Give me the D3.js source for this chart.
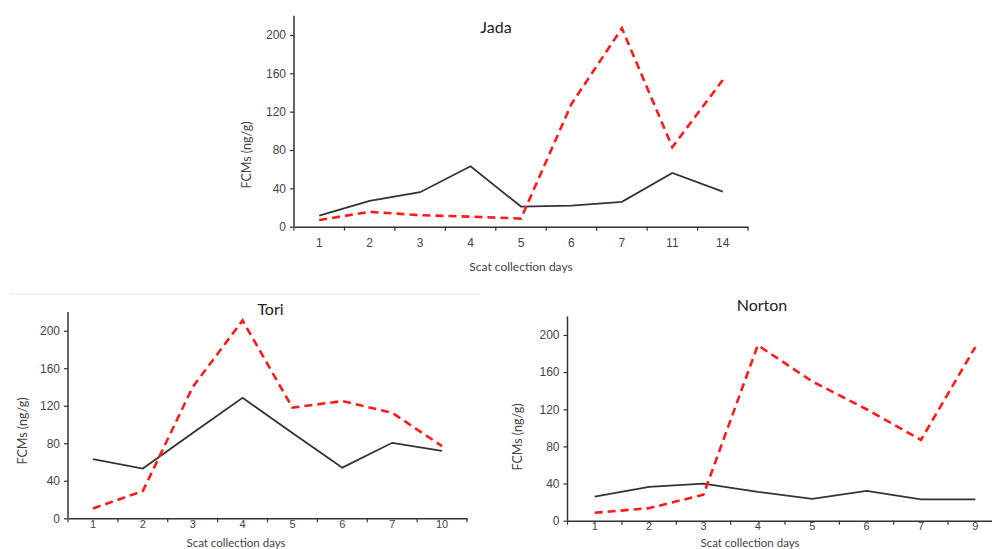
<!DOCTYPE html>
<html>
<head>
<meta charset="utf-8">
<script src="https://cdn.jsdelivr.net/npm/d3@7"></script>
<style>
  html, body { margin: 0; padding: 0; background: #fff; }
  svg { display: block; font-family: Lato, "Open Sans", sans-serif; }
</style>
</head>
<body>
<svg id="chart" width="992" height="549"></svg>
<script>
// Faecal cortisol metabolite (FCM) levels per scat collection day
const yTicks = [0, 40, 80, 120, 160, 200];

const jadaDays   = ["1", "2", "3", "4", "5", "6", "7", "11", "14"];
const jadaSolid  = [11.5, 27, 36, 63, 21, 22, 26, 56, 36.5];
const jadaDashed = [7, 15.5, 12, 10.5, 8.5, 128, 207, 83, 153];

const toriDays   = ["1", "2", "3", "4", "5", "6", "7", "10"];
const toriSolid  = [63, 53, 91, 128.5, 91, 54, 80.5, 72];
const toriDashed = [10.5, 29, 140, 211, 118, 125, 112.5, 77];

const nortonDays   = ["1", "2", "3", "4", "5", "6", "7", "9"];
const nortonSolid  = [26, 36.5, 40, 31, 23.5, 32, 23, 23];
const nortonDashed = [8.5, 13.5, 28, 189, 150, 120, 87, 187];

// Panel placement on the page
const panels = [
  { title: "Jada", days: jadaDays, solid: jadaSolid, dashed: jadaDashed,
    x0: 294, x1: 748, yBottom: 226.7, yTop: 15.8,
    titlePos: [496, 26], xLabelPos: [521, 266], yLabelPos: [246, 155],
    tickPad: 12, tickFont: 12, xLabelFont: 12 },
  { title: "Tori", days: toriDays, solid: toriSolid, dashed: toriDashed,
    x0: 68, x1: 467, yBottom: 518.3, yTop: 312,
    titlePos: [270.5, 308], xLabelPos: [236, 542], yLabelPos: [22, 431],
    tickPad: 2, tickFont: 11, xLabelFont: 11.5 },
  { title: "Norton", days: nortonDays, solid: nortonSolid, dashed: nortonDashed,
    x0: 567.5, x1: 1002.5, yBottom: 520.7, yTop: 316.4,
    titlePos: [762, 304], xLabelPos: [750, 542], yLabelPos: [517, 437],
    tickPad: 1, tickFont: 11, xLabelFont: 11.5 }
];

const svg = d3.select("#chart");

// thin separator above the lower-left panel
svg.append("line")
  .attr("x1", 10).attr("x2", 480).attr("y1", 294).attr("y2", 294)
  .attr("stroke", "#eeeeee").attr("stroke-width", 1.5);

panels.forEach(p => {
  const g = svg.append("g");

  const x = d3.scaleBand().domain(p.days).range([p.x0, p.x1]).padding(0);
  const y = d3.scaleLinear().domain([0, 220]).range([p.yBottom, p.yTop]);

  // y axis
  const yAxis = g.append("g")
    .attr("transform", `translate(${p.x0},0)`)
    .call(d3.axisLeft(y).tickValues(yTicks).tickSize(4).tickSizeOuter(0).tickPadding(4));
  yAxis.select(".domain").attr("stroke", "#333").attr("stroke-width", 1.5)
    .attr("d", `M0,${y(220)}V${y(0)}`);
  yAxis.selectAll(".tick line").attr("stroke", "#333").attr("stroke-width", 1.2);
  yAxis.selectAll(".tick text").attr("fill", "#444").style("font-size", "12px");

  // x axis: labels centred in each band, tick marks at band boundaries
  const xAxis = g.append("g")
    .attr("transform", `translate(0,${p.yBottom})`)
    .call(d3.axisBottom(x).tickSize(0).tickSizeOuter(0).tickPadding(p.tickPad));
  xAxis.select(".domain").attr("stroke", "#333").attr("stroke-width", 1.5);
  xAxis.selectAll(".tick text").attr("fill", "#444").style("font-size", p.tickFont + "px");
  const bounds = p.days.map(d => x(d)).concat([x(p.days[p.days.length - 1]) + x.bandwidth()]);
  xAxis.selectAll(".bound").data(bounds).enter().append("line")
    .attr("class", "bound")
    .attr("x1", d => d).attr("x2", d => d)
    .attr("y1", 0).attr("y2", 4)
    .attr("stroke", "#333").attr("stroke-width", 1.2);

  const line = d3.line()
    .x((d, i) => x(p.days[i]) + x.bandwidth() / 2)
    .y(d => y(d));

  g.append("path").datum(p.solid)
    .attr("d", line)
    .attr("fill", "none").attr("stroke", "#333").attr("stroke-width", 1.8)
    .attr("stroke-linejoin", "miter");

  g.append("path").datum(p.dashed)
    .attr("d", line)
    .attr("fill", "none").attr("stroke", "#ff1a1a").attr("stroke-width", 2.6)
    .attr("stroke-dasharray", "8,5");

  // titles and axis labels
  g.append("text")
    .attr("x", p.titlePos[0]).attr("y", p.titlePos[1])
    .attr("text-anchor", "middle").attr("dominant-baseline", "central")
    .attr("fill", "#222").style("font-size", "16px")
    .text(p.title);

  g.append("text")
    .attr("x", p.xLabelPos[0]).attr("y", p.xLabelPos[1])
    .attr("text-anchor", "middle").attr("dominant-baseline", "central")
    .attr("fill", "#444").style("font-size", p.xLabelFont + "px")
    .text("Scat collection days");

  g.append("text")
    .attr("transform", `translate(${p.yLabelPos[0]},${p.yLabelPos[1]}) rotate(-90)`)
    .attr("text-anchor", "middle").attr("dominant-baseline", "central")
    .attr("fill", "#444").style("font-size", "12.5px")
    .text("FCMs (ng/g)");
});
</script>
</body>
</html>
